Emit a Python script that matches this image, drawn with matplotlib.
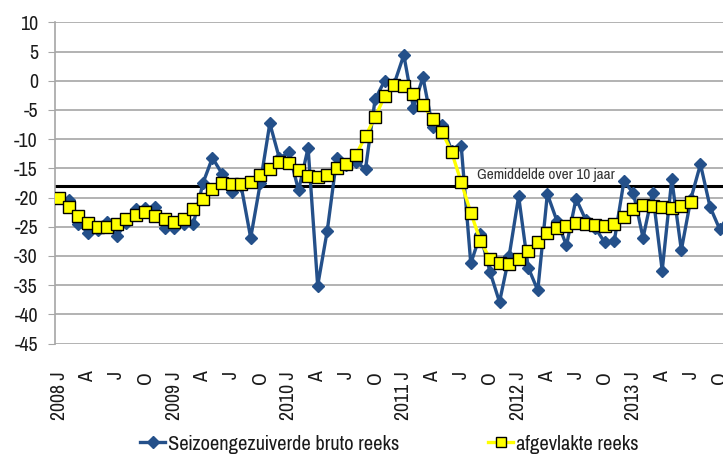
import matplotlib
matplotlib.use("Agg")
import matplotlib.pyplot as plt
from matplotlib.lines import Line2D

plt.rcParams['font.family'] = ['Pragati Narrow', 'Archivo Narrow', 'Liberation Sans', 'DejaVu Sans']
plt.rcParams['axes.unicode_minus'] = False

# Data -----------------------------------------------------------------
tick_labels = ["2008 J", "A", "J", "O", "2009 J", "A", "J", "O",
               "2010 J", "A", "J", "O", "2011 J", "A", "J", "O",
               "2012 J", "A", "J", "O", "2013 J", "A", "J", "O"]

bruto = [-20.0, -20.4, -24.5, -26.0, -25.5, -24.2, -26.6, -24.3, -22.0, -21.8,
         -21.6, -25.3, -25.2, -24.6, -24.6, -17.6, -13.2, -15.9, -19.0, -18.0,
         -26.9, -17.6, -7.3, -13.3, -12.2, -18.8, -11.5, -35.1, -25.7, -13.2,
         -14.4, -13.9, -15.1, -3.2, 0.0, -0.5, 4.4, -4.6, 0.6, -7.9,
         -7.5, -12.0, -11.2, -31.3, -26.3, -32.7, -37.9, -30.1, -19.8, -32.0,
         -35.9, -19.4, -24.0, -28.2, -20.2, -23.8, -25.2, -27.7, -27.4, -17.2,
         -19.3, -26.9, -19.2, -32.5, -16.9, -29.0, -20.2, -14.3, -21.6, -25.4,
         -23.0]

afgevlakt = [-20.0, -21.7, -23.1, -24.4, -25.0, -25.0, -24.5, -23.7, -23.0, -22.5,
             -23.1, -23.7, -24.2, -23.7, -22.0, -20.3, -18.6, -17.6, -17.7, -17.7,
             -17.3, -16.2, -15.2, -14.0, -14.1, -15.3, -16.3, -16.5, -16.1, -14.9,
             -14.3, -12.7, -9.5, -6.2, -2.7, -0.7, -0.9, -2.3, -4.2, -6.6,
             -8.8, -12.2, -17.4, -22.6, -27.4, -30.5, -31.3, -31.4, -30.5, -29.1,
             -27.7, -26.0, -25.3, -24.9, -24.4, -24.6, -24.7, -24.9, -24.6, -23.3,
             -22.0, -21.3, -21.5, -21.7, -21.8, -21.4, -20.8]

gemiddelde = -18.0
gem_label = "Gemiddelde over 10 jaar"
label_bruto = "Seizoengezuiverde bruto reeks"
label_afg = "afgevlakte reeks"

# Figure ---------------------------------------------------------------
W, H = 723, 455
fig = plt.figure(figsize=(W / 100, H / 100), dpi=100)
px_per_cat = 9.57
n_cats = 71
left_px, top_px, bottom_px = 54.5, 22.3, 343.5
ax = fig.add_axes([left_px / W, (H - bottom_px) / H,
                   n_cats * px_per_cat / W, (bottom_px - top_px) / H])

blue = '#24508a'
x_b = list(range(len(bruto)))
x_a = list(range(len(afgevlakt)))

ax.plot(x_b, bruto, color=blue, lw=2.4, marker='D', ms=6.5,
        markerfacecolor=blue, markeredgecolor=blue, zorder=3)
ax.plot(x_a, afgevlakt, color='#ffff00', lw=2.4, marker='s', ms=8.5,
        markerfacecolor='#ffff00', markeredgecolor='black', markeredgewidth=1.0,
        zorder=4)

ax.axhline(gemiddelde, color='black', lw=2.2, zorder=2)
ax.text(43.7, gemiddelde + 0.6, gem_label, fontsize=12, ha='left', va='bottom',
        color='#333333', zorder=5)

ax.set_xlim(-0.5, n_cats - 0.5)
ax.set_ylim(-45, 10)
ax.set_yticks(range(-45, 11, 5))
ax.yaxis.grid(True, color='#a6a6a6', lw=1.2, zorder=0)
ax.set_axisbelow(True)
ax.tick_params(axis='y', length=5, color='#a6a6a6', labelsize=15.5, pad=7,
               labelcolor='#1a1a1a')

ax.set_xticks(range(0, 3 * len(tick_labels), 3))
ax.set_xticklabels(tick_labels, rotation=90, fontsize=15.5, color='#1a1a1a')
ax.tick_params(axis='x', length=0, pad=20)

for s in ['top', 'right', 'bottom']:
    ax.spines[s].set_visible(False)
ax.spines['left'].set_color('#a6a6a6')
ax.spines['left'].set_linewidth(1.2)

handles = [Line2D([], [], color=blue, lw=2.4, marker='D', ms=6,
                  markerfacecolor=blue, markeredgecolor=blue),
           Line2D([], [], color='#ffff00', lw=2.4, marker='s', ms=7.5,
                  markerfacecolor='#ffff00', markeredgecolor='black', markeredgewidth=1.0)]
leg = fig.legend(handles, [label_bruto, label_afg], loc='center',
                 bbox_to_anchor=(389 / W, 1 - 444 / H), ncol=2, frameon=False,
                 fontsize=16, handlelength=1.15, handletextpad=0.1, columnspacing=4.0)
for t in leg.get_texts():
    t.set_color('#1a1a1a')

fig.savefig('out.png', dpi=100)
